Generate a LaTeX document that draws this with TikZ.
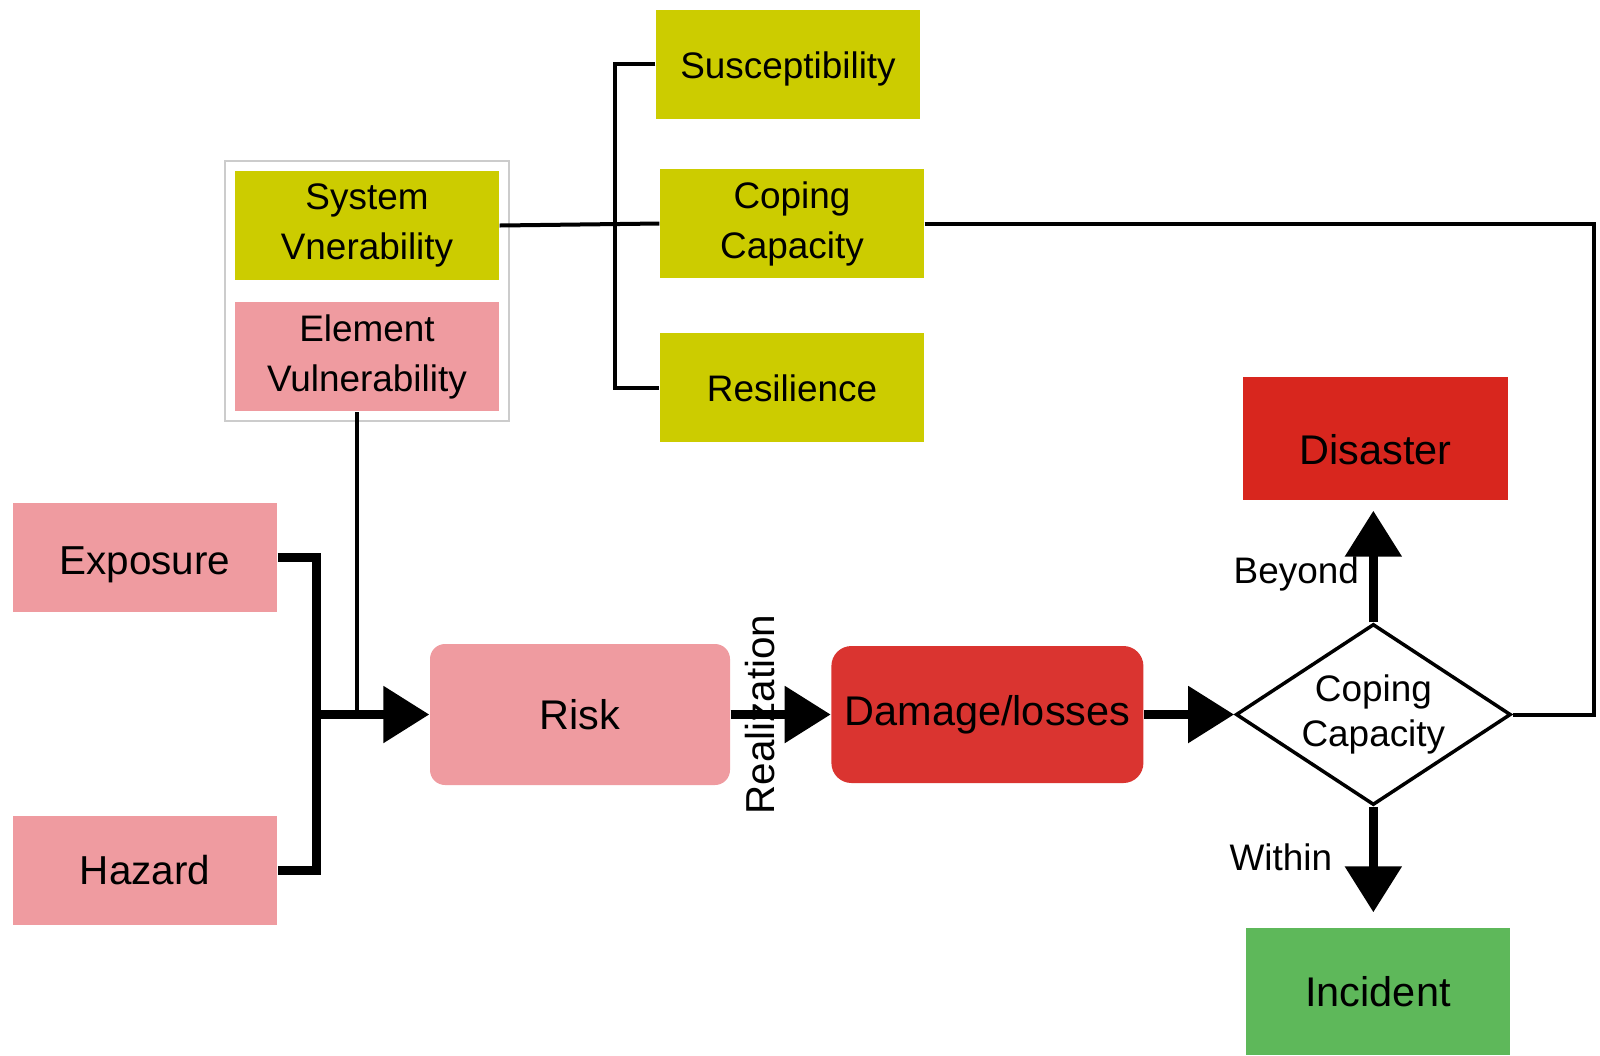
\documentclass[tikz,border=0pt]{standalone}
\usepackage{fontspec}
\setmainfont{Liberation Sans}
\usetikzlibrary{positioning,calc}
\usetikzlibrary{shapes.geometric,arrows.meta,fit}
\definecolor{olivebox}{RGB}{204,204,0}
\definecolor{pinkbox}{RGB}{239,155,160}
\definecolor{lossred}{RGB}{218,52,48}
\definecolor{disred}{RGB}{216,38,30}
\definecolor{incgreen}{RGB}{94,184,90}
\tikzset{thin link/.style={line width=0.4mm},
 thick link/.style={line width=0.9mm},
 big arrow/.style={line width=0.9mm,-{Triangle[length=4.6mm,width=5.5mm]}}}

\begin{document}
\begin{tikzpicture}[x=0.1mm,y=-0.1mm,font=\fontsize{10.5}{12.8}\selectfont,
 blk/.style={fill=#1,align=center,inner sep=0pt,minimum width=26.4mm,minimum height=10.9mm,font=\fontsize{10.5}{14.2}\selectfont},
 big/.style={font=\fontsize{11.8}{14}\selectfont},
 mid/.style={font=\fontsize{11.5}{14}\selectfont}]
\useasboundingbox (0,0) rectangle (1600,1055);

\node[blk=olivebox] (SV) at (367,225.5) {System\\Vnerability};
\node[blk=pinkbox,below=2.1mm of SV] (EV) {Element\\Vulnerability};
\node[draw=black!20,line width=0.2mm,fit=(SV)(EV),inner sep=0.9mm] (VG) {};

\node[blk=olivebox,text height=3.7mm] (SU) at (788,64) {Susceptibility};
\node[blk=olivebox] (CC) at (792,223.5) {Coping\\Capacity};
\node[blk=olivebox,below=5.4mm of CC] (RE) {Resilience};

\node[blk=pinkbox,mid,text height=4.4mm] (EX) at (145,557) {Exposure};
\node[blk=pinkbox,mid,below=20.3mm of EX] (HZ) {Hazard};

\node[blk=pinkbox,big,rounded corners=1.5mm,minimum width=30mm,minimum height=14.1mm] (RK) at (580,714.5) {Risk};
\node[blk=lossred,big,rounded corners=2mm,minimum width=31.2mm,minimum height=13.7mm,right=10mm of RK] (DL) {Damage/losses};
\node[diamond,draw,line width=0.35mm,fill=white,aspect=1.52,inner sep=0pt,minimum width=27.5mm,minimum height=18.1mm,align=center,right=9mm of DL] (DC) {Coping\\Capacity};
\node[blk=disred,big,text height=5.2mm,minimum width=26.5mm,minimum height=12.3mm] (DS) at (1375.5,438.5) {Disaster};
\node[blk=incgreen,big,minimum height=12.7mm] (IN) at (1378,991.5) {Incident};

\path (RK.west) ++(-11.3mm,0) coordinate (J);
\path (SV.east) ++(11.5mm,0) coordinate (BR);
\coordinate (RC) at (1594,0);

% what makes up the risk
\draw[thick link] (EX.east) -| (J) |- (HZ.east);
\draw[thin link] ([xshift=-1mm]EV.south) -- ([xshift=-1mm]EV.south |- J);
\draw (J) edge[big arrow] (RK.west);

\draw (RK) edge[big arrow] node[pos=0.29,rotate=90,mid]{Realization} (DL)
 (DL) edge[big arrow] (DC);

% outcome of coping
\draw[big arrow,shorten >=1mm] (DC.north) -- node[pos=0.4,left,inner sep=1mm]{Beyond} (DC.north |- DS.south);
\draw[big arrow,shorten >=1.5mm] (DC.south) -- node[pos=0.42,left=2.5mm]{Within} (DC.south |- IN.north);

% system vulnerability
\draw[thin link] (SV.east) -- (CC.west);
\draw[thin link] (SU.west) -| (BR) |- (RE.west);
\draw[thin link] (CC.east) -| (RC |- DC.east) -- (DC.east);
\end{tikzpicture}
\end{document}
